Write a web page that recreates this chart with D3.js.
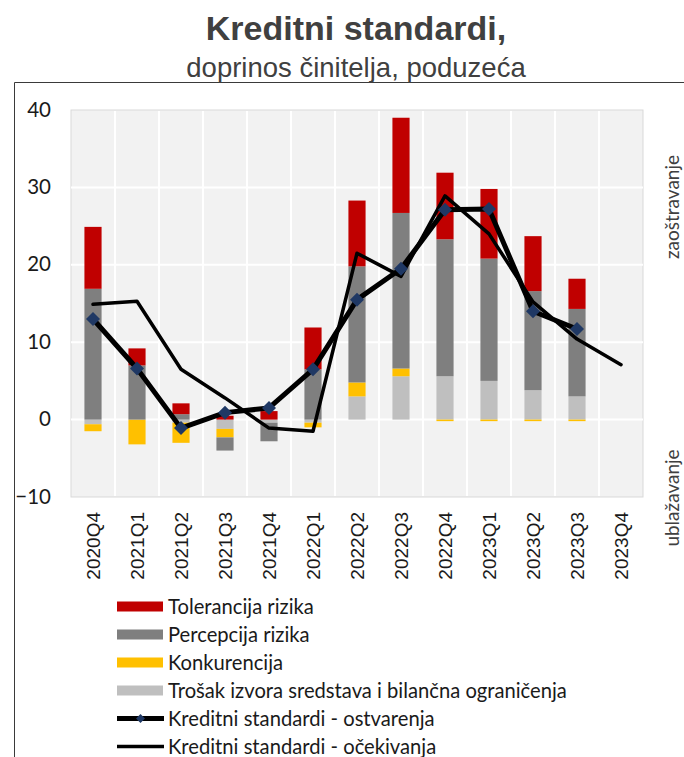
<!DOCTYPE html>
<html>
<head>
<meta charset="utf-8">
<script src="https://cdn.jsdelivr.net/npm/d3@7"></script>
<style>
  html, body { margin: 0; padding: 0; background: #ffffff; }
  svg { display: block; }
</style>
</head>
<body>
<svg id="chart" width="684" height="757"></svg>
<script>
// ---- data ----
const quarters = ["2020Q4","2021Q1","2021Q2","2021Q3","2021Q4","2022Q1","2022Q2","2022Q3","2022Q4","2023Q1","2023Q2","2023Q3","2023Q4"];
const tolerancija = [8.0, 2.2, 1.4, 0.5, 1.1, 5.4, 8.5, 12.3, 8.6, 9.0, 7.1, 3.9, 0];
const percepcija  = [16.9, 7.0, 0.7, -1.7, -2.4, 6.5, 15.0, 20.1, 17.7, 15.8, 12.8, 11.3, 0];
const konkurencija = [-0.9, -3.2, -2.6, -1.1, 0, -0.6, 1.8, 1.0, -0.2, -0.2, -0.2, -0.2, 0];
const trosak = [-0.6, 0, -0.4, -1.2, -0.4, -0.4, 3.0, 5.6, 5.6, 5.0, 3.8, 3.0, 0];
const ostvarenja = [13.0, 6.6, -1.1, 0.9, 1.5, 6.5, 15.5, 19.5, 27.1, 27.2, 14.0, 11.7, null];
const ocekivanja = [14.9, 15.3, 6.5, 2.8, -1.1, -1.5, 21.5, 18.5, 28.9, 24.0, 15.2, 10.4, 7.1];
const yTicks = [-10, 0, 10, 20, 30, 40];
const seriesNames = ["Tolerancija rizika", "Percepcija rizika", "Konkurencija", "Trošak izvora sredstava i bilančna ograničenja", "Kreditni standardi - ostvarenja", "Kreditni standardi - očekivanja"];
const titleText = "Kreditni standardi,";
const subtitleText = "doprinos činitelja, poduzeća";
const sideTop = "zaoštravanje";
const sideBottom = "ublažavanje";

// ---- layout ----
const svg = d3.select("#chart");
const plot = { left: 71, right: 643, top: 110, bottom: 497 };
const colors = { tol: "#c00000", perc: "#7f7f7f", konk: "#ffc000", tros: "#bfbfbf" };
const textCol = "#404040";

// frame
svg.append("path")
  .attr("d", "M14.5,757 L14.5,82.5 L684,82.5")
  .attr("fill", "none").attr("stroke", "#3a3a3a").attr("stroke-width", 1);

// title
svg.append("text").attr("x", 356).attr("y", 40).attr("text-anchor", "middle")
  .attr("font-family", "Liberation Sans, Arial, sans-serif").attr("font-weight", "bold")
  .attr("font-size", 34).attr("fill", textCol).text(titleText);
svg.append("text").attr("x", 356).attr("y", 77).attr("text-anchor", "middle")
  .attr("font-family", "Liberation Sans, Arial, sans-serif")
  .attr("font-size", 27.5).attr("fill", textCol).text(subtitleText);

// scales
const y = d3.scaleLinear().domain([-10, 40]).range([plot.bottom, plot.top]);
const xBand = d3.scaleBand().domain(quarters).range([plot.left, plot.right])
  .paddingInner(0.61).paddingOuter(0.305);
const xStep = d3.scaleBand().domain(quarters).range([plot.left, plot.right]).padding(0);
const cx = q => xBand(q) + xBand.bandwidth() / 2;

// plot background
svg.append("rect").attr("x", plot.left).attr("y", plot.top)
  .attr("width", plot.right - plot.left).attr("height", plot.bottom - plot.top)
  .attr("fill", "#f2f2f2").attr("stroke", "#d9d9d9").attr("stroke-width", 1);

// gridlines
svg.append("g").selectAll("line.h").data(yTicks.filter(t => t > -10 && t < 40)).join("line")
  .attr("x1", plot.left).attr("x2", plot.right)
  .attr("y1", d => y(d)).attr("y2", d => y(d))
  .attr("stroke", "#ffffff").attr("stroke-width", 2);
svg.append("g").selectAll("line.v").data(quarters.slice(1)).join("line")
  .attr("x1", d => xStep(d)).attr("x2", d => xStep(d))
  .attr("y1", plot.top + 1).attr("y2", plot.bottom - 1)
  .attr("stroke", "#ffffff").attr("stroke-width", 2);

// stacked bars
const rows = quarters.map((q, i) => ({ q, tros: trosak[i], konk: konkurencija[i], perc: percepcija[i], tol: tolerancija[i] }));
const keys = ["tros", "konk", "perc", "tol"];
const stacked = d3.stack().keys(keys).offset(d3.stackOffsetDiverging)(rows);
svg.append("g").selectAll("g").data(stacked).join("g")
  .attr("fill", d => colors[d.key])
  .selectAll("rect").data(d => d).join("rect")
  .attr("x", d => xBand(d.data.q))
  .attr("width", xBand.bandwidth())
  .attr("y", d => y(Math.max(d[0], d[1])))
  .attr("height", d => Math.abs(y(d[0]) - y(d[1])));

// lines
const lineGen = d3.line().defined(d => d.v !== null).x(d => cx(d.q)).y(d => y(d.v));
const ocData = quarters.map((q, i) => ({ q, v: ocekivanja[i] }));
const osData = quarters.map((q, i) => ({ q, v: ostvarenja[i] }));
svg.append("path").datum(ocData).attr("d", lineGen)
  .attr("fill", "none").attr("stroke", "#000").attr("stroke-width", 3.5)
  .attr("stroke-linejoin", "round").attr("stroke-linecap", "round");
svg.append("path").datum(osData).attr("d", lineGen)
  .attr("fill", "none").attr("stroke", "#000").attr("stroke-width", 5)
  .attr("stroke-linejoin", "round").attr("stroke-linecap", "round");
const diamond = d3.symbol().type(d3.symbolDiamond2).size(125);
svg.append("g").selectAll("path").data(osData.filter(d => d.v !== null)).join("path")
  .attr("d", diamond)
  .attr("transform", d => `translate(${cx(d.q)},${y(d.v)})`)
  .attr("fill", "#1f3864");

// y axis labels
const yAxis = d3.axisLeft(y).tickValues(yTicks).tickSize(0).tickPadding(0).tickFormat(d3.format("d"));
const gy = svg.append("g").attr("transform", "translate(51,0)").call(yAxis);
gy.select(".domain").remove();
gy.selectAll("text").attr("font-family", "Lato, sans-serif").attr("font-size", 20.5)
  .attr("fill", "#1a1a1a").attr("dy", "0.3em");

// x axis labels
const xAxis = d3.axisBottom(xBand).tickSize(0).tickPadding(0);
const gx = svg.append("g").attr("transform", "translate(0,512)").call(xAxis);
gx.select(".domain").remove();
gx.selectAll("text")
  .attr("font-family", "Liberation Sans, Arial, sans-serif").attr("font-size", 19)
  .attr("fill", "#1a1a1a")
  .attr("text-anchor", "end").attr("dy", "0.35em").attr("y", 0)
  .attr("transform", "rotate(-90)");

// side labels
svg.append("text").attr("transform", "translate(679,207) rotate(-90)")
  .attr("text-anchor", "middle").attr("font-family", "Lato, sans-serif").attr("font-size", 19)
  .attr("fill", textCol).text(sideTop);
svg.append("text").attr("transform", "translate(679,498) rotate(-90)")
  .attr("text-anchor", "middle").attr("font-family", "Lato, sans-serif").attr("font-size", 19)
  .attr("fill", textCol).text(sideBottom);

// legend
const legendY0 = 606.5, legendStep = 28;
const legItems = [
  { name: seriesNames[0], type: "rect", color: colors.tol },
  { name: seriesNames[1], type: "rect", color: colors.perc },
  { name: seriesNames[2], type: "rect", color: colors.konk },
  { name: seriesNames[3], type: "rect", color: colors.tros },
  { name: seriesNames[4], type: "lineMarker" },
  { name: seriesNames[5], type: "line" }
];
const lg = svg.append("g").selectAll("g").data(legItems).join("g")
  .attr("transform", (d, i) => `translate(0,${legendY0 + i * legendStep})`);
lg.filter(d => d.type === "rect").append("rect")
  .attr("x", 117).attr("y", -5).attr("width", 46).attr("height", 10)
  .attr("fill", d => d.color);
lg.filter(d => d.type !== "rect").append("line")
  .attr("x1", 117).attr("x2", 164).attr("y1", 0).attr("y2", 0)
  .attr("stroke", "#000").attr("stroke-width", d => d.type === "lineMarker" ? 5 : 3.5);
lg.filter(d => d.type === "lineMarker").append("path")
  .attr("d", d3.symbol().type(d3.symbolDiamond2).size(50))
  .attr("transform", "translate(140.5,0)").attr("fill", "#1f3864");
lg.append("text").attr("x", 168).attr("y", 0).attr("dy", "0.35em")
  .attr("font-family", "Lato, sans-serif").attr("font-size", 20.2)
  .attr("fill", "#1a1a1a").text(d => d.name);
</script>
</body>
</html>
